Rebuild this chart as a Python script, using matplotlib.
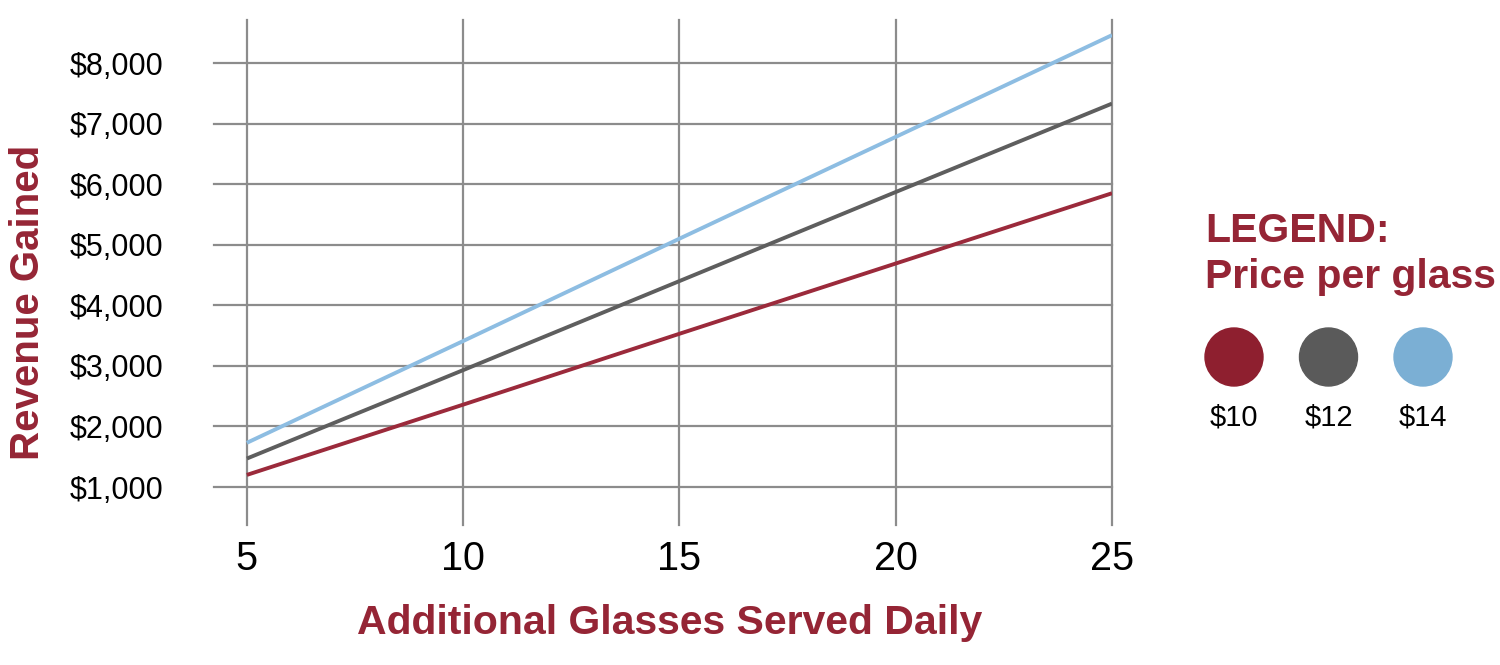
import matplotlib.pyplot as plt
from matplotlib.patches import Circle

plt.rcParams['font.family'] = ['Liberation Sans', 'DejaVu Sans']

# data
glasses = [5, 10, 15, 20, 25]
rev_10 = [1200, 2360, 3530, 4690, 5850]
rev_12 = [1470, 2930, 4400, 5870, 7330]
rev_14 = [1730, 3410, 5100, 6780, 8460]
prices = ['$10', '$12', '$14']
y_ticks = [1000, 2000, 3000, 4000, 5000, 6000, 7000, 8000]

maroon = '#952535'
col_10 = '#9B2A3B'
col_12 = '#5E5E5E'
col_14 = '#8DBDE2'
dot_cols = ['#8E1F2F', '#5A5A5A', '#7BAFD4']

W, H = 1500, 665
fig = plt.figure(figsize=(15, 6.65), dpi=100)
ax = fig.add_axes([214 / W, 1 - 525 / H, (1112 - 214) / W, (525 - 20) / H])

ax.plot(glasses, rev_10, color=col_10, lw=2.8, solid_capstyle='butt', zorder=3)
ax.plot(glasses, rev_12, color=col_12, lw=2.8, solid_capstyle='butt', zorder=3)
ax.plot(glasses, rev_14, color=col_14, lw=2.8, solid_capstyle='butt', zorder=3)

ax.set_xlim(4.24, 25)
ax.set_ylim(373, 8710)
ax.set_xticks(glasses)
ax.set_yticks(y_ticks)
ax.set_yticklabels(['${:,}'.format(v) for v in y_ticks])
ax.tick_params(axis='x', length=0, labelsize=28.5, pad=11)
ax.tick_params(axis='y', length=0, labelsize=22, pad=36.5)
ax.grid(True, color='#8C8C8C', lw=1.6)
for gl in ax.get_xgridlines() + ax.get_ygridlines():
    gl.set_clip_on(False)
for s in ax.spines.values():
    s.set_visible(False)

fig.text(670 / W, 1 - 623 / H, 'Additional Glasses Served Daily', color=maroon,
         fontsize=29.5, fontweight='bold', ha='center', va='center')
fig.text(28 / W, 1 - 302 / H, 'Revenue Gained', color=maroon, rotation=90,
         fontsize=29, fontweight='bold', ha='center', va='center')

# legend drawn in pixel space
lg = fig.add_axes([0, 0, 1, 1])
lg.set_xlim(0, W)
lg.set_ylim(H, 0)
lg.axis('off')
lg.text(1205, 242, 'LEGEND:', color=maroon, fontsize=29.5, fontweight='bold',
        ha='left', va='baseline')
lg.text(1205, 288, 'Price per glass', color=maroon, fontsize=29.5, fontweight='bold',
        ha='left', va='baseline')
for i, (p, c) in enumerate(zip(prices, dot_cols)):
    cx = 1234 + i * 94.5
    lg.add_patch(Circle((cx, 357), 29, color=c))
    lg.text(cx, 418, p, fontsize=21, ha='center', va='center')

fig.savefig('out.png', dpi=100)
